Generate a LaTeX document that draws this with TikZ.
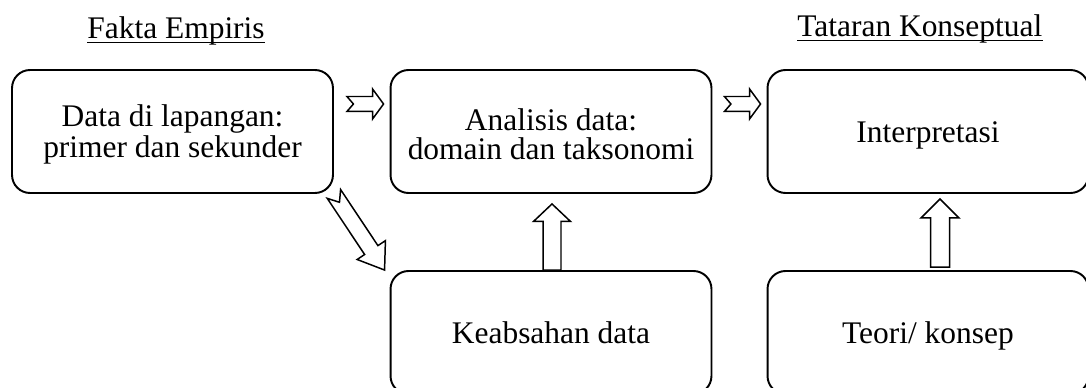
\documentclass[tikz,border=0pt]{standalone}
\usepackage{fontspec}
\setmainfont{Liberation Serif}
\usetikzlibrary{calc}
\tikzset{
  box/.style={draw=black, line width=1.1pt, rounded corners=0.36cm,
    minimum width=6.42cm, minimum height=2.46cm, align=center, inner sep=0pt,
    text height=0.43cm, text depth=0pt, font=\fontsize{17.9}{16.2}\selectfont},
  twoline/.style={text height=, text depth=},
  blk/.style={draw=black, line width=0.85pt, line join=miter, fill=white},
  title/.style={inner sep=0pt, anchor=base west, font=\fontsize{17.9}{16.2}\selectfont},
  uline/.style={draw=black, line width=0.7pt},
}
\newcommand{\tstrut}{\rule{0pt}{0.55cm}}
% block arrow: tail, tip, shaft half, head half, head length, notch
\newcommand{\blkarrow}[6]{%
  \coordinate (bh) at ($(#2)!#5!(#1)$);
  \coordinate (bn) at ($(#1)!#6!(#2)$);
  \draw[blk] ($(#1)!#3!90:(#2)$) -- ($(bh)!#3!90:(#2)$) -- ($(bh)!#4!90:(#2)$) -- (#2)
    -- ($(bh)!#4!-90:(#2)$) -- ($(bh)!#3!-90:(#2)$) -- ($(#1)!#3!-90:(#2)$) -- (bn) -- cycle;
}

\begin{document}
\begin{tikzpicture}[x=0.02cm, y=-0.02cm]
  \useasboundingbox (0,0) rectangle (1086,388);
  \clip (0,0) rectangle (1086,388);

  % headings
  \node[title] (fakta) at (87,39) {Fakta Empiris\ };
  \draw[uline] ($(fakta.base west)+(0,3.5)$) -- ($(fakta.base east)+(0,3.5)$);
  \node[title] (tataran) at (797,37) {Tataran Konseptual};
  \draw[uline] ($(tataran.base west)+(0,3.5)$) -- ($(tataran.base east)+(0,3.5)$);

  % boxes
  \node[box,twoline] (data) at (172.5,131.5) {\tstrut Data di lapangan:\\primer dan sekunder};
  \node[box,twoline] (anal) at (551,131.5) {\tstrut Analisis data:\\domain dan taksonomi};
  \node[box] (interp) at (928,131.5) {Interpretasi};
  \node[box] (keab) at (551,332.5) {Keabsahan data};
  \node[box] (teori) at (928,332.5) {Teori/ konsep};

  % arrow ends
  \coordinate (r1s) at ($(data.east)+(13,-27.5)$);
  \coordinate (r1e) at ($(anal.west)+(-6,-27.5)$);
  \coordinate (r2s) at ($(anal.east)+(12,-27.5)$);
  \coordinate (r2e) at ($(interp.west)+(-6,-27.5)$);
  \coordinate (d1e) at ($(keab.north west)+(-5,0)$);
  \coordinate (u1s) at ($(keab.north)+(1,0)$);
  \coordinate (u1e) at ($(anal.south)+(1,10)$);
  \coordinate (u2s) at ($(teori.north)+(12,-3)$);
  \coordinate (u2e) at ($(interp.south)+(12,5)$);

  \blkarrow{r1s}{r1e}{0.15cm}{0.3cm}{0.22cm}{0.13cm}
  \blkarrow{r2s}{r2e}{0.15cm}{0.3cm}{0.22cm}{0.13cm}
  \blkarrow{data.south east}{d1e}{0.16cm}{0.34cm}{0.48cm}{0.2cm}
  \blkarrow{u1s}{u1e}{0.18cm}{0.37cm}{0.35cm}{0cm}
  \blkarrow{u2s}{u2e}{0.19cm}{0.38cm}{0.38cm}{0cm}
\end{tikzpicture}
\end{document}
